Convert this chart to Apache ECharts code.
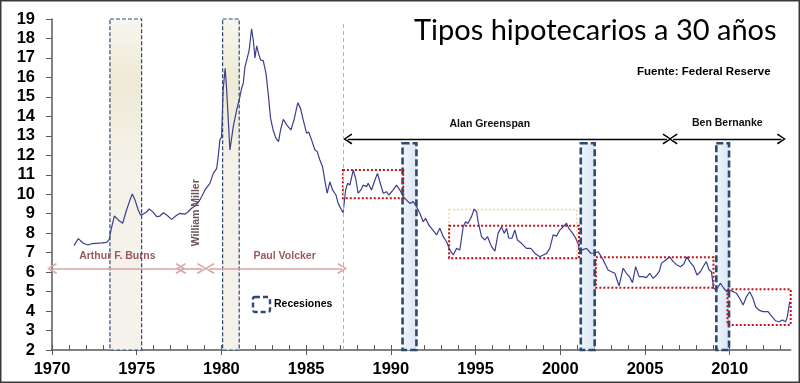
<!DOCTYPE html>
<html>
<head>
<meta charset="utf-8">
<script src="https://cdn.jsdelivr.net/npm/echarts@6/dist/echarts.min.js"></script>
<style>
html,body{margin:0;padding:0;background:#fff;}
#chart{width:800px;height:383px;}
</style>
</head>
<body>
<div id="chart"></div>
<script>
// ---- Data ----
const years = [1971.30,1971.55,1971.85,1972.14,1972.34,1972.64,1972.93,1973.23,1973.38,1973.48,1973.68,1973.91,1974.17,1974.40,1974.60,1974.74,1974.90,1975.09,1975.23,1975.39,1975.59,1975.74,1975.98,1976.18,1976.37,1976.57,1976.77,1977.06,1977.30,1977.55,1977.85,1978.04,1978.24,1978.44,1978.63,1978.83,1979.03,1979.32,1979.52,1979.72,1979.81,1979.91,1980.01,1980.10,1980.22,1980.30,1980.50,1980.70,1980.90,1981.05,1981.19,1981.29,1981.39,1981.52,1981.64,1981.78,1981.88,1981.98,1982.08,1982.20,1982.31,1982.47,1982.63,1982.76,1982.90,1983.05,1983.22,1983.37,1983.49,1983.65,1983.85,1984.10,1984.28,1984.51,1984.67,1984.83,1985.03,1985.15,1985.32,1985.52,1985.65,1985.81,1985.97,1986.10,1986.24,1986.40,1986.56,1986.76,1986.89,1987.09,1987.18,1987.33,1987.45,1987.58,1987.78,1987.92,1988.07,1988.23,1988.37,1988.57,1988.66,1988.86,1989.06,1989.21,1989.35,1989.55,1989.74,1989.88,1990.14,1990.33,1990.53,1990.73,1990.93,1991.12,1991.32,1991.52,1991.71,1991.91,1992.05,1992.24,1992.40,1992.70,1992.89,1993.09,1993.29,1993.48,1993.68,1993.88,1994.07,1994.27,1994.41,1994.55,1994.76,1994.92,1995.06,1995.15,1995.35,1995.55,1995.71,1995.94,1996.14,1996.33,1996.53,1996.69,1996.83,1996.96,1997.15,1997.32,1997.47,1997.71,1998.00,1998.26,1998.50,1998.79,1998.99,1999.18,1999.38,1999.58,1999.78,1999.97,2000.17,2000.37,2000.50,2000.68,2000.86,2001.05,2001.15,2001.29,2001.55,2001.80,2002.03,2002.23,2002.43,2002.63,2002.82,2003.02,2003.22,2003.47,2003.71,2003.90,2004.10,2004.26,2004.45,2004.65,2004.88,2005.08,2005.28,2005.48,2005.68,2005.85,2005.97,2006.22,2006.46,2006.66,2006.89,2007.09,2007.28,2007.48,2007.64,2007.88,2008.07,2008.27,2008.45,2008.62,2008.78,2008.92,2009.05,2009.20,2009.45,2009.65,2009.84,2010.00,2010.20,2010.40,2010.59,2010.79,2010.99,2011.18,2011.35,2011.53,2011.73,2011.96,2012.26,2012.46,2012.71,2012.91,2013.11,2013.30,2013.40,2013.54];
const rates = [7.36,7.72,7.48,7.39,7.46,7.48,7.50,7.53,7.68,8.16,8.88,8.68,8.51,9.19,9.70,10.01,9.70,9.19,8.93,8.98,9.10,9.24,9.07,8.85,8.88,9.05,8.93,8.71,8.88,9.02,8.98,9.10,9.28,9.40,9.57,9.87,10.22,10.56,11.07,11.33,11.93,12.79,12.96,15.35,16.47,15.50,12.27,13.47,14.33,14.84,15.44,15.70,16.55,16.98,17.41,18.50,17.92,17.00,17.62,17.20,16.90,16.85,16.21,15.18,13.90,13.30,12.87,12.70,13.30,13.85,13.56,13.30,13.81,14.70,14.41,13.81,13.13,13.20,12.79,12.27,12.20,11.76,11.41,10.73,10.05,10.64,10.22,9.96,9.53,9.19,9.05,10.22,10.56,10.47,11.24,10.82,10.05,10.22,10.47,10.39,10.56,10.22,10.73,11.07,10.64,10.05,10.13,9.96,10.22,10.47,10.22,9.87,9.70,9.53,9.62,9.36,9.02,8.59,8.76,8.42,8.25,7.91,8.25,7.82,7.56,7.14,6.88,7.22,7.14,8.33,8.59,8.50,8.85,9.24,9.10,8.59,7.82,7.65,7.82,7.31,7.08,7.99,8.33,7.99,8.25,7.74,7.75,8.16,7.65,7.48,7.22,7.22,6.97,6.79,6.88,6.95,7.22,7.91,7.85,8.16,8.33,8.51,8.25,8.05,7.82,7.48,7.05,7.14,7.22,6.97,6.97,7.05,6.79,6.45,6.11,6.02,5.94,5.29,6.20,5.94,5.75,5.46,6.28,5.77,5.77,5.72,5.94,5.68,5.85,6.05,6.45,6.62,6.79,6.54,6.37,6.28,6.40,6.79,6.54,6.28,5.85,6.02,6.30,6.54,6.11,6.02,5.17,5.08,5.43,5.17,4.99,5.08,5.00,4.91,4.65,4.31,4.74,4.99,4.70,4.22,4.05,3.97,3.97,3.75,3.50,3.45,3.54,3.45,3.70,4.48];

const xLabelYears = [1970,1975,1980,1985,1990,1995,2000,2005,2010];
const xTickYears = [];
for (let y = 1970; y <= 2013; y++) xTickYears.push(y);
const yTicks = [2,3,4,5,6,7,8,9,10,11,12,13,14,15,16,17,18,19];

// Recessions (start, end, top)
const recStart = [1973.42, 1980.07, 1990.69, 2001.21, 2009.21];
const recEnd   = [1975.29, 1981.05, 1991.51, 2002.03, 2009.96];
const recTop   = [19, 19, 12.62, 12.62, 12.62];

// Red dotted boxes (x0, x1, yTop, yBottom)
const boxX0 = [1987.17, 1993.44, 2002.10, 2009.87];
const boxX1 = [1990.73, 2001.10, 2009.04, 2013.97];
const boxYT = [11.24, 8.38, 6.76, 5.12];
const boxYB = [9.79, 6.71, 5.20, 3.28];
// light orange box
const oBox = [1993.44, 2000.98, 9.22, 6.71];

// Chairmen arrows
const pinkArrowsX = [[1970.0, 1977.58], [1977.62, 1978.85], [1979.30, 1987.13]];
const pinkArrowY = 6.19;
const blackArrowsX = [[1987.46, 2006.30], [2006.66, 2013.05]];
const blackArrowY = 12.84;
const volckerLineX = 1987.17;

const annotations = [
  {text: 'Alan Greenspan', x: 1995.84, y: 13.62, color: '#111'},
  {text: 'Ben Bernanke', x: 2009.86, y: 13.67, color: '#111'},
  {text: 'Arthur F. Burns', x: 1973.86, y: 6.83, color: '#9a5a5c'},
  {text: 'Paul Volcker', x: 1983.73, y: 6.83, color: '#9a5a5c'},
  {text: 'William Miller', x: 1978.48, y: 9.05, color: '#6b5555', rotate: 90}
];

// ---- Chart ----
const chart = echarts.init(document.getElementById('chart'), null, {renderer: 'canvas'});

const beige = {type:'linear', x:0, y:0, x2:0, y2:1, colorStops:[
  {offset:0, color:'#f8f6f0'}, {offset:0.18, color:'#eeead6'}, {offset:0.45, color:'#f5f2ea'}, {offset:1, color:'#f5f2ec'}]};
const blue = {type:'linear', x:0, y:0, x2:1, y2:0, colorStops:[
  {offset:0, color:'#f0f5fb'}, {offset:1, color:'#dae6f4'}]};

const recAreas = recStart.map((s, i) => {
  const old = i < 2;
  return [
    {coord:[s, recTop[i]], itemStyle:{color: old ? beige : blue, borderColor:'#2d4a70',
      borderWidth: old ? 1.2 : 2.6, borderType: old ? [4,2] : [7,3]}},
    {coord:[recEnd[i], 2]}
  ];
});
const boxAreas = boxX0.map((x0, i) => [
  {coord:[x0, boxYT[i]], itemStyle:{color:'rgba(0,0,0,0)', borderColor:'#c0121a', borderWidth:2, borderType:[2,2]}},
  {coord:[boxX1[i], boxYB[i]]}
]);
const oArea = [[
  {coord:[oBox[0], oBox[2]], itemStyle:{color:'rgba(0,0,0,0)', borderColor:'#f3cfa8', borderWidth:1.5, borderType:[2,2]}},
  {coord:[oBox[1], oBox[3]]}
]];

const chevron = 'path://M5,0 L10,9 L8.8,10 L5,2.6 L1.2,10 L0,9 Z';

const arrowLines = [];
pinkArrowsX.forEach(a => arrowLines.push([
  {coord:[a[0], pinkArrowY], lineStyle:{color:'#d9a3a6', width:1.6, type:'solid'}, symbol:chevron, symbolSize:[11,10]},
  {coord:[a[1], pinkArrowY], symbol:chevron, symbolSize:[11,10]}
]));
blackArrowsX.forEach(a => arrowLines.push([
  {coord:[a[0], blackArrowY], lineStyle:{color:'#000', width:1.4, type:'solid'}, symbol:chevron, symbolSize:[11,9]},
  {coord:[a[1], blackArrowY], symbol:chevron, symbolSize:[11,9]}
]));
arrowLines.push([
  {coord:[volckerLineX, 2], lineStyle:{color:'#e69d9d', width:1, type:[4,3]}, symbol:'none'},
  {coord:[volckerLineX, 18.85], symbol:'none'}
]);

const annPoints = annotations.map(a => ({
  coord:[a.x, a.y], symbol:'rect', symbolSize:1, itemStyle:{color:'rgba(0,0,0,0)'},
  label:{show:true, position:'inside', formatter:a.text, color:a.color, rotate:a.rotate || 0,
    fontFamily:'Liberation Sans', fontWeight:'bold', fontSize:10.5}
}));

const option = {
  animation: false,
  backgroundColor: '#fff',
  grid: {left: 52, right: 9.3, top: 19, bottom: 33},
  xAxis: [{
    type: 'value', min: 1970, max: 2013.6,
    axisLine: {lineStyle: {color: '#5a5a5a', width: 1.5}},
    axisTick: {show: true, inside: true, length: 5, customValues: xTickYears, lineStyle: {color: '#5a5a5a'}},
    axisLabel: {customValues: xLabelYears, margin: 11, color: '#000', fontFamily: 'Liberation Sans',
      fontWeight: 'bold', fontSize: 16.5, formatter: v => String(v)},
    splitLine: {show: false}
  }, {
    type: 'value', min: 1970, max: 2013.6, position: 'bottom',
    axisLine: {show: false},
    axisTick: {show: true, inside: false, length: 5, customValues: xLabelYears, lineStyle: {color: '#5a5a5a'}},
    axisLabel: {show: false},
    splitLine: {show: false}
  }],
  yAxis: {
    type: 'value', min: 2, max: 19, interval: 1,
    axisLine: {show: true, lineStyle: {color: '#5a5a5a', width: 1.5}},
    axisTick: {show: true, length: 6, lineStyle: {color: '#5a5a5a'}},
    axisLabel: {margin: 17, color: '#000', fontFamily: 'Liberation Sans', fontWeight: 'bold', fontSize: 16.5,
      customValues: yTicks},
    splitLine: {show: false}
  },
  series: [
    {
      type: 'line', name: 'overlays', data: [], clip: false, silent: true,
      markArea: {silent: true, data: recAreas.concat(oArea, boxAreas), label: {show: false}},
      z: 1
    },
    {
      type: 'line', name: 'Tipos', data: years.map((y, i) => [y, rates[i]]),
      showSymbol: false, symbol: 'none', lineStyle: {color: '#3c3f8c', width: 1.2}, z: 3
    },
    {
      type: 'line', name: 'arrows', data: [], clip: false, silent: true, z: 4,
      markLine: {silent: true, symbol: [chevron, chevron], symbolSize: [10, 9], data: arrowLines,
        label: {show: false}},
      markPoint: {silent: true, data: annPoints}
    }
  ],
  graphic: [
    {type: 'text', left: 414, top: 16, style: {text: 'Tipos hipotecarios a 30 años', fill: '#000',
      font: '29px Lato'}},
    {type: 'text', left: 637, top: 66, style: {text: 'Fuente: Federal Reserve', fill: '#000',
      font: 'bold 11.5px "Liberation Sans"'}},
    {type: 'rect', shape: {x: 253, y: 297, width: 17, height: 15, r: 2},
      style: {fill: 'none', stroke: '#2d4a70', lineWidth: 2.4, lineDash: [5, 3]}},
    {type: 'text', left: 274, top: 299, style: {text: 'Recesiones', fill: '#000',
      font: 'bold 10.5px "Liberation Sans"'}},
    {type: 'rect', shape: {x: 0.75, y: 0.75, width: 798.5, height: 381.5},
      style: {fill: 'none', stroke: '#3a3a3a', lineWidth: 1.5}, z: 100}
  ]
};
chart.setOption(option);
</script>
</body>
</html>
